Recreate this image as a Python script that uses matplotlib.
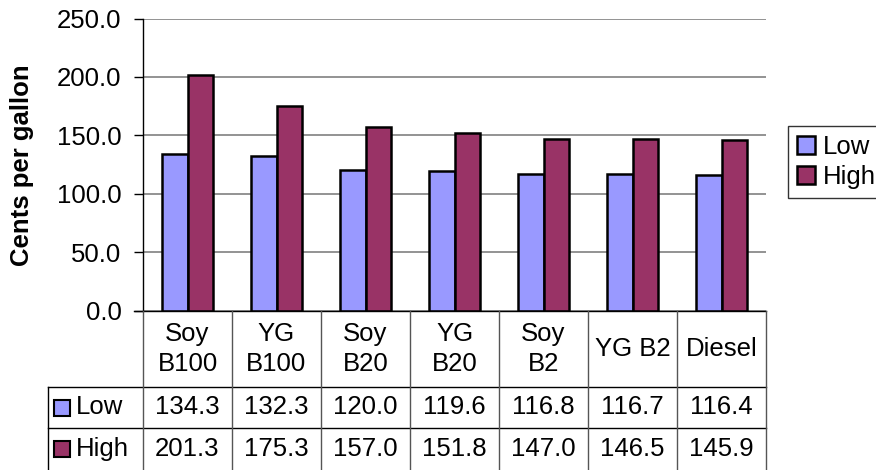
import numpy as np
import matplotlib
matplotlib.use("Agg")
import matplotlib.pyplot as plt
from matplotlib.patches import Rectangle
from matplotlib.transforms import blended_transform_factory

categories = ["Soy\nB100", "YG\nB100", "Soy\nB20", "YG\nB20", "Soy\nB2", "YG B2", "Diesel"]
low = [134.3, 132.3, 120.0, 119.6, 116.8, 116.7, 116.4]
high = [201.3, 175.3, 157.0, 151.8, 147.0, 146.5, 145.9]
series = ["Low", "High"]
colors = ["#9999FF", "#993366"]
yticks = [0, 50, 100, 150, 200, 250]

plt.rcParams['font.family'] = ['Liberation Sans', 'DejaVu Sans']
FS = 18.5

W, H = 876, 470
PL, PT, PR, PB = 143, 18.5, 766, 310.5   # plot area in pixels


def box(l, t, r, b):
    return [l / W, 1 - b / H, (r - l) / W, (b - t) / H]


fig = plt.figure(figsize=(W / 100, H / 100), dpi=100)
ax = fig.add_axes(box(PL, PT, PR, PB))

x = np.arange(len(categories))
w = 0.29
ax.bar(x - w / 2, low, w, color=colors[0], edgecolor='black', linewidth=1.8,
       label=series[0], zorder=3)
ax.bar(x + w / 2, high, w, color=colors[1], edgecolor='black', linewidth=1.8,
       label=series[1], zorder=3)
ax.set_xlim(-0.5, len(categories) - 0.5)
ax.set_ylim(0, 250)
ax.set_yticks(yticks)
ax.set_yticklabels([f"{v:.1f}" for v in yticks], fontsize=FS)
ax.tick_params(axis='y', length=6.5, width=1, direction='out', pad=9)
ax.set_xticks([])
ax.grid(axis='y', color='#808080', lw=1.2, zorder=0)
for s in ['top', 'right', 'bottom']:
    ax.spines[s].set_visible(False)
ax.spines['left'].set_linewidth(1)

fig.text(22 / W, 1 - 165 / H, "Cents per gallon", rotation=90, fontsize=FS,
         fontweight='bold', ha='center', va='center')

leg = ax.legend(loc='upper left', bbox_to_anchor=(788 / W, 1 - 126 / H),
                bbox_transform=fig.transFigure, fontsize=FS, frameon=True,
                fancybox=False, edgecolor='black', handlelength=0.7,
                handleheight=0.7, handletextpad=0.3, borderpad=0.35,
                labelspacing=0.25, borderaxespad=0)
leg.get_frame().set_linewidth(1)

# data table below the plot
tab = fig.add_axes([0, 0, 1, 1])
tab.set_xlim(0, W)
tab.set_ylim(H, 0)
tab.axis('off')
tr = blended_transform_factory(ax.transData, tab.transData)

row_top = [311, 387, 428]
row_mid = [349, 407.5, 449]

tab.plot([134, PR], [311, 311], color='black', lw=1)
for y in row_top[1:]:
    tab.plot([48, PR], [y, y], color='black', lw=1)
tab.plot([48, 48], [387, H], color='black', lw=1)
for i in range(len(categories) + 1):
    tab.plot([i - 0.5, i - 0.5], [311, H], transform=tr, color='#555555', lw=1)

for i, c in enumerate(categories):
    tab.text(i, row_mid[0], c, transform=tr, fontsize=FS, ha='center',
             va='center', linespacing=1.3)
    tab.text(i, row_mid[1], f"{low[i]:.1f}", transform=tr, fontsize=FS,
             ha='center', va='center')
    tab.text(i, row_mid[2], f"{high[i]:.1f}", transform=tr, fontsize=FS,
             ha='center', va='center')

for name, col, ym in zip(series, colors, row_mid[1:]):
    tab.add_patch(Rectangle((54, ym - 8), 16, 16, facecolor=col,
                            edgecolor='black', lw=1.5))
    tab.text(76, ym, name, fontsize=FS, ha='left', va='center')

fig.savefig('out.png', dpi=100)
